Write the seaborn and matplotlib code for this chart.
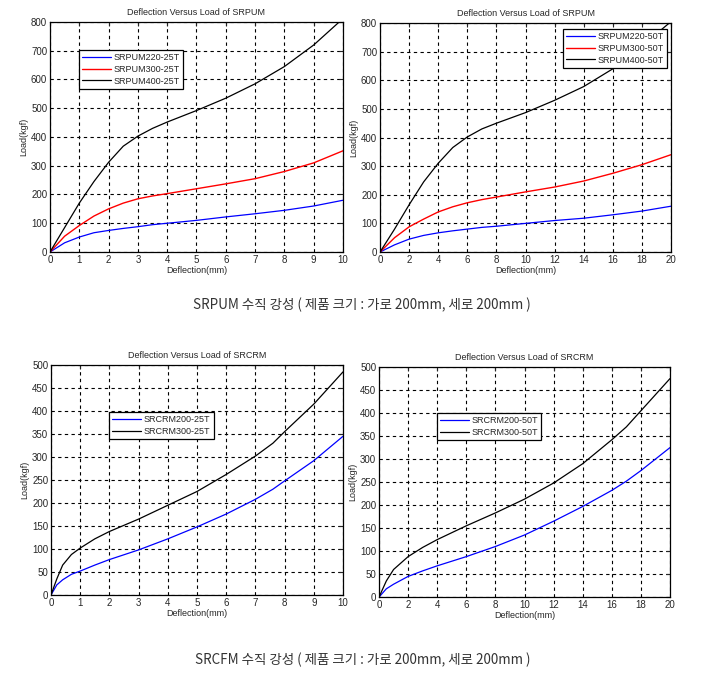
import pandas as pd
import matplotlib
matplotlib.use("Agg")
import matplotlib.pyplot as plt
import seaborn as sns

# ============================================================
# 0. 기본 설정
# ============================================================
sns.set_style("white")
plt.rcParams["font.family"] = ["Liberation Sans", "DejaVu Sans"]
plt.rcParams["axes.unicode_minus"] = False

# ============================================================
# 1. 데이터
# ============================================================
# SRPUM 25T (변위 0~10mm)
x_pum25 = [0, 0.5, 1, 1.5, 2, 2.5, 3, 3.5, 4, 5, 6, 7, 8, 9, 10]
pum220_25 = [0, 32, 52, 67, 75, 82, 88, 95, 100, 110, 122, 133, 145, 160, 180]
pum300_25 = [0, 55, 92, 125, 150, 170, 185, 195, 203, 220, 237, 255, 280, 310, 352]
pum400_25 = [0, 85, 170, 245, 312, 368, 403, 430, 452, 492, 535, 585, 645, 720, 812]

# SRPUM 50T (변위 0~20mm)
x_pum50 = [0, 1, 2, 3, 4, 5, 6, 7, 8, 10, 12, 14, 16, 18, 20]
pum220_50 = [0, 25, 45, 58, 67, 74, 80, 86, 90, 100, 110, 118, 130, 143, 160]
pum300_50 = [0, 50, 88, 115, 140, 158, 172, 183, 192, 210, 227, 248, 275, 305, 340]
pum400_50 = [0, 80, 165, 245, 310, 365, 402, 430, 450, 487, 530, 578, 640, 720, 805]

# SRCRM 25T (변위 0~10mm)
x_crm25 = [0, 0.2, 0.4, 0.7, 1, 1.5, 2, 3, 4, 5, 6, 7, 7.6, 8, 9, 10]
crm200_25 = [0, 22, 33, 45, 52, 65, 77, 98, 122, 148, 176, 208, 230, 248, 292, 345]
crm300_25 = [0, 35, 65, 88, 102, 122, 138, 165, 195, 225, 262, 302, 330, 355, 415, 485]

# SRCRM 50T (변위 0~20mm)
x_crm50 = [0, 0.5, 1, 2, 3, 4, 6, 8, 10, 12, 14, 16, 17, 18, 20]
crm200_50 = [0, 18, 28, 45, 57, 68, 88, 110, 135, 165, 197, 232, 252, 275, 325]
crm300_50 = [0, 35, 60, 88, 108, 125, 155, 183, 213, 248, 290, 342, 370, 405, 475]

# ============================================================
# 2. 시각화
# ============================================================
fig = plt.figure(figsize=(7.09, 7.0), dpi=100)

panels = [
    # (위치, x, 시리즈, 제목, xmax, ymax, 범례 위치, 범례 anchor)
    ([0.0705, 0.640, 0.4133, 0.3286], x_pum25,
     [("SRPUM220-25T", pum220_25, "blue"),
      ("SRPUM300-25T", pum300_25, "red"),
      ("SRPUM400-25T", pum400_25, "black")],
     "Deflection Versus Load of SRPUM", 10, 800, "upper left", (0.099, 0.878)),
    ([0.536, 0.640, 0.4104, 0.3271], x_pum50,
     [("SRPUM220-50T", pum220_50, "blue"),
      ("SRPUM300-50T", pum300_50, "red"),
      ("SRPUM400-50T", pum400_50, "black")],
     "Deflection Versus Load of SRPUM", 20, 800, "upper right", (0.986, 0.974)),
    ([0.0719, 0.150, 0.4119, 0.3286], x_crm25,
     [("SRCRM200-25T", crm200_25, "blue"),
      ("SRCRM300-25T", crm300_25, "black")],
     "Deflection Versus Load of SRCRM", 10, 500, "upper left", (0.199, 0.796)),
    ([0.5346, 0.147, 0.4104, 0.3286], x_crm50,
     [("SRCRM200-50T", crm200_50, "blue"),
      ("SRCRM300-50T", crm300_50, "black")],
     "Deflection Versus Load of SRCRM", 20, 500, "upper left", (0.199, 0.80)),
]

fs = 6.5
for pos, xs, series, title, xmax, ymax, loc, anchor in panels:
    ax = fig.add_axes(pos)
    for label, ys, color in series:
        df = pd.DataFrame({"x": xs, "y": ys})
        sns.lineplot(data=df, x="x", y="y", ax=ax, color=color,
                     lw=1.0 if color == "red" else 0.9, label=label)
    ax.set_xlim(0, xmax)
    ax.set_ylim(0, ymax)
    ax.set_xticks(range(0, xmax + 1, 1 if xmax == 10 else 2))
    ax.set_yticks(range(0, ymax + 1, 100 if ymax == 800 else 50))
    ax.grid(True, color="black", linestyle=(0, (3, 3)), linewidth=0.8)
    ax.tick_params(direction="in", length=3, labelsize=fs + 0.5, pad=2,
                   top=True, right=True)
    for sp in ax.spines.values():
        sp.set_color("black")
        sp.set_linewidth(0.9)
    ax.set_title(title, fontsize=fs, pad=5)
    ax.set_xlabel("Deflection(mm)", fontsize=fs, labelpad=1)
    ax.set_ylabel("Load(kgf)", fontsize=fs, labelpad=2)
    leg = ax.legend(loc=loc, bbox_to_anchor=anchor, fontsize=fs,
                    handlelength=3.2, fancybox=False, framealpha=1,
                    edgecolor="black", borderpad=0.35, labelspacing=0.3,
                    handletextpad=0.3, borderaxespad=0)
    leg.get_frame().set_linewidth(0.9)

# 그림 설명 (한글)
fig.text(0.511, 1 - 305 / 700, "SRPUM 수직 강성 ( 제품 크기 : 가로 200mm, 세로 200mm )",
         ha="center", va="center", fontsize=9.7, color="#333333",
         family=["Noto Sans CJK KR", "DejaVu Sans"])
fig.text(0.511, 1 - 660 / 700, "SRCFM 수직 강성 ( 제품 크기 : 가로 200mm, 세로 200mm )",
         ha="center", va="center", fontsize=9.7, color="#333333",
         family=["Noto Sans CJK KR", "DejaVu Sans"])

plt.savefig("out.png", dpi=100)
